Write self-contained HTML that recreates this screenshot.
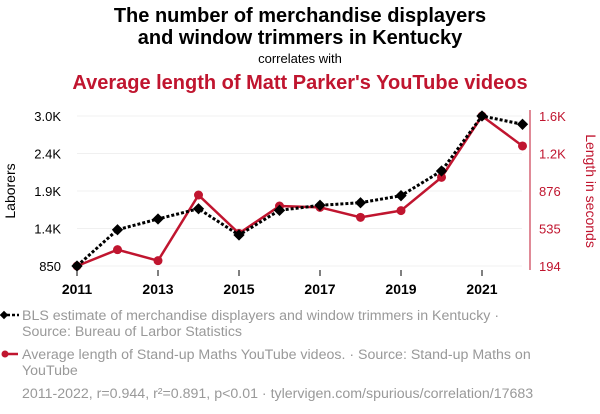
<!DOCTYPE html>
<html><head><meta charset="utf-8"><style>
body{margin:0;background:#fff;width:600px;height:414px;overflow:hidden;font-family:"Liberation Sans",sans-serif}
svg{display:block}
</style></head><body>
<svg id="c" width="600" height="414">
<text x="300" y="22" text-anchor="middle" font-size="20" font-weight="bold" fill="#000">The number of merchandise displayers</text>
<text x="300" y="44" text-anchor="middle" font-size="20" font-weight="bold" fill="#000">and window trimmers in Kentucky</text>
<text x="300" y="63" text-anchor="middle" font-size="13" fill="#000">correlates with</text>
<text x="300" y="89" text-anchor="middle" font-size="20" font-weight="bold" fill="#c0152f">Average length of Matt Parker's YouTube videos</text>
<g id="grid"></g><g id="axes"></g><g id="marks"></g>
<text transform="translate(15,191) rotate(-90)" text-anchor="middle" font-size="14" fill="#000">Laborers</text>
<text transform="translate(586,191) rotate(90)" text-anchor="middle" font-size="14" fill="#c0152f">Length in seconds</text>
<g>
<line x1="2" y1="315" x2="19" y2="315" stroke="#000" stroke-width="2.5" stroke-dasharray="3,2"/>
<rect x="1" y="312" width="6" height="6" transform="rotate(45 4 315)" fill="#000"/>
<text x="22" y="320" font-size="14.2" fill="#999">BLS estimate of merchandise displayers and window trimmers in Kentucky ·</text>
<text x="22" y="336" font-size="14.2" fill="#999">Source: Bureau of Larbor Statistics</text>
<line x1="2" y1="354" x2="18" y2="354" stroke="#c0152f" stroke-width="2.5"/>
<circle cx="5" cy="354" r="3.5" fill="#c0152f"/>
<text x="22" y="359" font-size="14.2" fill="#999">Average length of Stand-up Maths YouTube videos. · Source: Stand-up Maths on</text>
<text x="22" y="375" font-size="14.2" fill="#999">YouTube</text>
<text x="22" y="398" font-size="14.2" fill="#999">2011-2022, r=0.944, r²=0.891, p&lt;0.01 · tylervigen.com/spurious/correlation/17683</text>
</g>
</svg>
<script>
const years=[2011,2012,2013,2014,2015,2016,2017,2018,2019,2020,2021,2022];
const laborers=[850,1370,1524,1671,1294,1648,1720,1757,1858,2212,3000,2881];
const videoLength=[194,347,244,859,500,756,744,650,713,1025,1600,1319];
const leftTicks=[850,1387.5,1925,2462.5,3000];
const leftTickLabels=["850","1.4K","1.9K","2.4K","3.0K"];
const rightTicks=[194,545.5,897,1248.5,1600];
const rightTickLabels=["194","535","876","1.2K","1.6K"];
const xTicks=[2011,2013,2015,2017,2019,2021];

const NS="http://www.w3.org/2000/svg";
const x=v=>77+(v-2011)*40.5;
const yL=v=>266-(v-850)/(3000-850)*150;
const yR=v=>266-(v-194)/(1600-194)*150;
function mk(tag,attrs,parent,txt){const e=document.createElementNS(NS,tag);for(const k in attrs)e.setAttribute(k,attrs[k]);if(txt!==undefined)e.textContent=txt;document.getElementById(parent).appendChild(e);return e;}
leftTicks.forEach((t,i)=>{
 const g=mk('line',{x1:77,x2:522,y1:yL(t),y2:yL(t),stroke:'#f0f0f0','stroke-width':1},'grid');
 
 
 const l=mk('text',{x:61,y:yL(t)+5,'text-anchor':'end','font-size':13,fill:'#000'},'axes',leftTickLabels[i]);
 
 
});
rightTicks.forEach((t,i)=>{
 const l=mk('text',{x:539,y:yR(t)+5,'font-size':13,fill:'#c0152f'},'axes',rightTickLabels[i]);
 
 
});
const rax=mk('line',{x1:530,x2:530,y1:110,y2:270,stroke:'#c0152f','stroke-width':1},'axes');


xTicks.forEach(t=>{
 const tk=mk('line',{x1:x(t),x2:x(t),y1:270,y2:276,stroke:'#000','stroke-width':1},'axes');
 
 
 const l=mk('text',{x:x(t),y:294,'text-anchor':'middle','font-size':14,'font-weight':'bold',fill:'#000'},'axes',t);
 
 
});
const rp=mk('polyline',{points:years.map((y,i)=>x(y)+','+yR(videoLength[i])).join(' '),fill:'none',stroke:'#c0152f','stroke-width':2.5},'marks');


years.forEach((y,i)=>{
 const c=mk('circle',{cx:x(y),cy:yR(videoLength[i]),r:4.5,fill:'#c0152f'},'marks');
 
 
});
const bp=mk('polyline',{points:years.map((y,i)=>x(y)+','+yL(laborers[i])).join(' '),fill:'none',stroke:'#000','stroke-width':3,'stroke-dasharray':'3,2'},'marks');


years.forEach((y,i)=>{
 const cx=x(y),cy=yL(laborers[i]);
 const d=mk('rect',{x:cx-4,y:cy-4,width:8,height:8,fill:'#000',transform:`rotate(45 ${cx} ${cy})`},'marks');
 
 
});
</script>
</body></html>
